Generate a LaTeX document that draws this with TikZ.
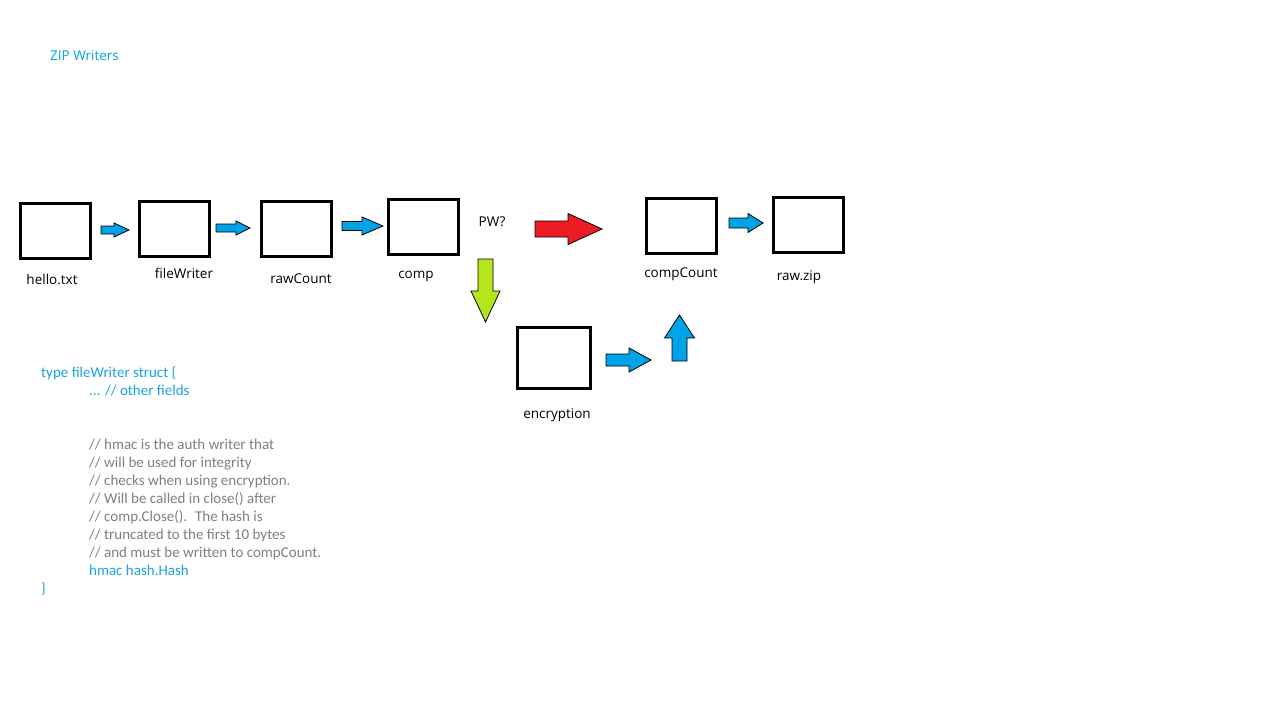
\documentclass[tikz,border=0pt]{standalone}
\usepackage{fontspec}
\setmainfont{Open Sans}
\newfontfamily\codefont{Carlito}
\usepackage{tikz}

\definecolor{paintblue}{HTML}{00A2E8}
\definecolor{paintred}{HTML}{ED1C24}
\definecolor{paintlime}{HTML}{B5E61D}
\definecolor{codeblue}{HTML}{1BA1E2}
\definecolor{codegray}{HTML}{7F7F7F}

% block arrow pointing right: colour, x start, x head, x tip, y, shaft half, head half
\newcommand{\rightblock}[7]{%
    \draw[fill=#1, line width=0.8pt] (#2,#5-#6) -- (#3,#5-#6) -- (#3,#5-#7) -- (#4,#5)
        -- (#3,#5+#7) -- (#3,#5+#6) -- (#2,#5+#6) -- cycle;}
% block arrow vertical: colour, y start, y head, y tip, x, shaft half, head half
\newcommand{\vertblock}[7]{%
    \draw[fill=#1, line width=0.8pt] (#5-#6,#2) -- (#5-#6,#3) -- (#5-#7,#3) -- (#5,#4)
        -- (#5+#7,#3) -- (#5+#6,#3) -- (#5+#6,#2) -- cycle;}

\tikzset{
    wbox/.style={draw, line width=3pt, minimum width=70pt, minimum height=55pt, inner sep=0pt},
    lbl/.style={font=\fontsize{13.5}{15}\selectfont, text=black, inner sep=0pt},
    codeline/.style={font=\codefont\fontsize{15}{18}\selectfont, anchor=base west, inner sep=0pt}
}

\begin{document}
\begin{tikzpicture}[x=1pt, y=-1pt]
    \useasboundingbox (0,0) rectangle (1277,717);
    \node[lbl, text=paintblue, anchor=west] (title) at (50,56) {ZIP Writers};

    % boxes
    \node[wbox] (hello) at (55,231) {};
    \node[wbox] (filewriter) at (174.5,228.5) {};
    \node[wbox] (rawcount) at (296.5,228.5) {};
    \node[wbox] (comp) at (423.5,226.5) {};
    \node[wbox] (compcount) at (681.5,226) {};
    \node[wbox] (rawzip) at (808,225) {};
    \node[wbox, minimum width=73pt, minimum height=61pt] (encryption) at (554,358) {};

    \node[lbl] (hellolbl) at (52,279) {hello.txt};
    \node[lbl] (filewriterlbl) at (184,273) {fileWriter};
    \node[lbl] (rawcountlbl) at (301,279) {rawCount};
    \node[lbl] (complbl) at (416,276) {comp};
    \node[lbl] (compcountlbl) at (681,274) {compCount};
    \node[lbl] (rawziplbl) at (799,277) {raw.zip};
    \node[lbl] (encryptionlbl) at (557,415) {encryption};
    \node[lbl] (pw) at (492,222) {PW?};

    % arrows
    \rightblock{paintblue}{101}{114}{129}{230}{4}{7}
    \rightblock{paintblue}{216}{236}{250}{228}{4}{7}
    \rightblock{paintblue}{342}{362}{383}{226}{4.5}{9}
    \rightblock{paintred}{535}{568}{602}{229}{8}{15.5}
    \rightblock{paintblue}{729}{748}{763}{223}{5}{9.5}
    \rightblock{paintblue}{606}{629}{651}{360}{6}{12}
    \vertblock{paintlime}{259}{291}{322}{485.5}{7.5}{14.5}
    \vertblock{paintblue}{361}{338}{315}{679.5}{7.5}{15}

    % struct listing
    \node[codeline, text=codeblue] (structhead) at (41,377) {type fileWriter struct \{};
    \node[codeline, text=codeblue] (otherfields) at (89,395) {... // other fields};
    \foreach \line [count=\i] in {{// hmac is the auth writer that},
        {// will be used for integrity},
        {// checks when using encryption.},
        {// Will be called in close() after},
        {// comp.Close().~ The hash is},
        {// truncated to the first 10 bytes},
        {// and must be written to compCount.}}
        \node[codeline, text=codegray] (comment\i) at (89,431+18*\i) {\line};
    \node[codeline, text=codeblue] (hmacfield) at (89,575) {hmac hash.Hash};
    \node[codeline, text=codeblue] (structend) at (41,593) {\}};
\end{tikzpicture}
\end{document}
